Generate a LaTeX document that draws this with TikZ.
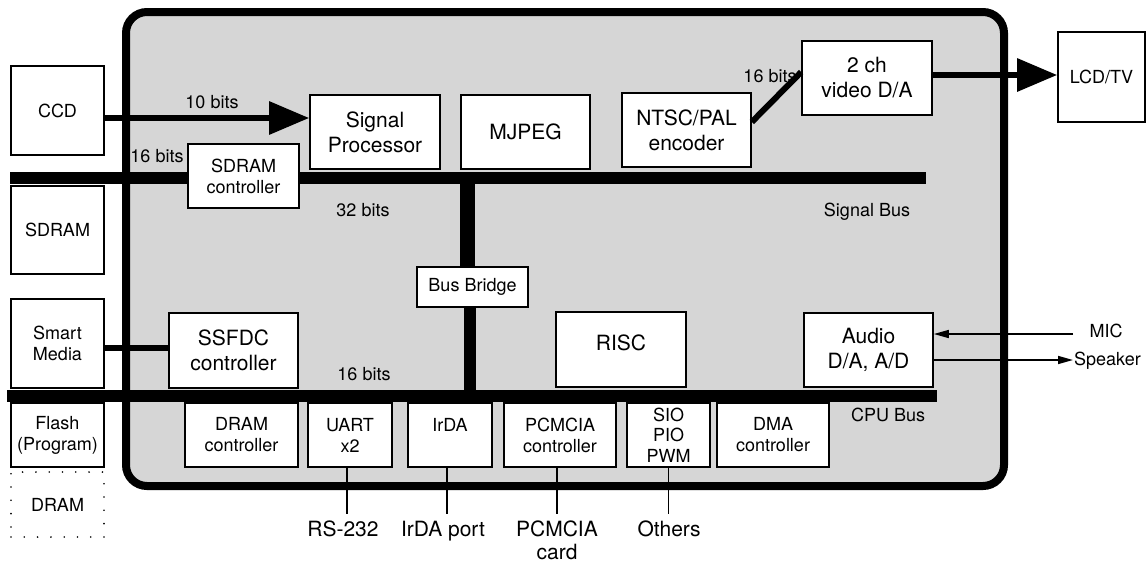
\documentclass[tikz,border=0pt]{standalone}
\usepackage{fontspec}
\setmainfont{TeX Gyre Heros}
\usetikzlibrary{arrows.meta}
\definecolor{panel}{RGB}{214,214,214}
\tikzset{
  bigtxt/.style={font=\fontsize{21}{25}\selectfont},
  smalltxt/.style={font=\fontsize{18}{21}\selectfont},
  box/.style={draw, line width=1.6pt, fill=white, inner sep=0pt, align=center},
  dotbox/.style={draw, line width=1.8pt, line cap=round, dash pattern=on 0pt off 13.3pt, inner sep=0pt, align=center},
  bus/.style={line width=12pt},
  wire/.style={line width=6pt},
  thin/.style={line width=1.6pt},
  bigtip/.style={-{Triangle[length=40pt,width=32pt]}},
  smalltip/.style={-{Triangle[length=15pt,width=8pt]}},
}
\begin{document}
\begin{tikzpicture}[x=1pt,y=-1pt]
\useasboundingbox (0,0) rectangle (1147,562);
% chip outline
\node[draw, line width=8pt, fill=panel, rounded corners=21pt, minimum width=878pt, minimum height=474pt, inner sep=0pt] (chip) at (565,249) {};
% buses
\coordinate (sbL) at (10,178);
\coordinate (sbR) at (926,178);
\coordinate (cbL) at (7,396);
\coordinate (cbR) at (937,396);
\draw[bus] (sbL) -- (sbR);
\draw[bus] (cbL) -- (cbR);
% bus bridge
\node[box, smalltxt, minimum width=111pt, minimum height=40pt] (BB) at (472.5,287) {Bus Bridge};
\coordinate (bbtop) at (467,178);
\coordinate (bbbot) at (470,396);
\draw[line width=15pt] (bbtop) -- (bbtop |- BB.north);
\draw[bus] (bbbot |- BB.south) -- (bbbot);
% external left boxes
\node[box, smalltxt, minimum width=93pt, minimum height=89pt] (CCD) at (57.5,110.5) {CCD};
\node[box, smalltxt, minimum width=93pt, minimum height=88pt] (SDRAM) at (57.5,230) {SDRAM};
\node[box, smalltxt, minimum width=93pt, minimum height=89pt] (SM) at (57.5,343.5) {Smart\\Media};
\node[box, smalltxt, minimum width=93pt, minimum height=64pt] (FL) at (57.5,435) {Flash\\(Program)};
\node[dotbox, smalltxt, minimum width=93pt, minimum height=65pt] (DR) at (57.5,504.5) {DRAM};
% inner top boxes
\node[box, bigtxt, minimum width=130pt, minimum height=74pt] (SP) at (375,132) {Signal\\Processor};
\node[box, bigtxt, minimum width=129pt, minimum height=74pt] (MJ) at (525.5,132) {MJPEG};
\node[box, bigtxt, minimum width=129pt, minimum height=74pt] (NT) at (686.5,130) {NTSC/PAL\\encoder};
\node[box, bigtxt, minimum width=130pt, minimum height=74pt] (DA) at (867,78) {2 ch\\video D/A};
\node[box, smalltxt, minimum width=87pt, minimum height=90pt] (LCD) at (1101.5,77) {LCD/TV};
\node[box, smalltxt, minimum width=111pt, minimum height=64pt] (SC) at (243.5,176) {SDRAM\\controller};
% middle boxes
\node[box, bigtxt, minimum width=129pt, minimum height=75pt] (SS) at (233.5,350.5) {SSFDC\\controller};
\node[box, minimum width=130pt, minimum height=75pt] (RISC) at (621,349.5) {};
\node[bigtxt, inner sep=0pt] (RISCt) at ([yshift=7pt]RISC.center) {RISC};
\node[box, bigtxt, minimum width=129pt, minimum height=74pt] (AU) at (868.5,350) {Audio\\D/A, A/D};
% bottom row
\node[box, smalltxt, minimum width=113pt, minimum height=64pt] (DC) at (241.5,435) {DRAM\\controller};
\node[box, smalltxt, minimum width=84pt, minimum height=64pt] (UA) at (350,435) {UART\\x2};
\node[box, smalltxt, minimum width=84pt, minimum height=64pt] (IR) at (450,435) {IrDA\\\mbox{}};
\node[box, smalltxt, minimum width=112pt, minimum height=64pt] (PC) at (560,435) {PCMCIA\\controller};
\node[box, smalltxt, minimum width=83pt, minimum height=64pt, font=\fontsize{18}{20.5}\selectfont] (SI) at (668.5,435) {SIO\\PIO\\PWM};
\node[box, smalltxt, minimum width=112pt, minimum height=64pt] (DM) at (773,435) {DMA\\controller};
% connectors
\coordinate (ccdout) at ([yshift=-7.5pt]CCD.east);
\draw[wire, bigtip] (ccdout) -- (ccdout -| SP.west);
\coordinate (smout) at ([yshift=-4.5pt]SM.east);
\draw[wire] (smout) -- (smout -| SS.west);
\draw[wire] ([yshift=8pt]NT.east) -- ([yshift=6pt]DA.west);
\coordinate (daout) at ([yshift=3pt]DA.east);
\draw[wire, bigtip] (daout) -- (daout -| LCD.west);
% audio
\coordinate (micend) at (1073,334);
\coordinate (spkend) at (1073,360);
\draw[thin, smalltip] (micend) -- (micend -| AU.east);
\draw[thin, smalltip] (spkend -| AU.east) -- (spkend);
\node[smalltxt, anchor=base, inner sep=0pt] (MIC) at (1106,337) {MIC};
\node[smalltxt, anchor=base west, inner sep=0pt] (SPK) at (1074,365) {Speaker};
% bottom stubs
\node[bigtxt, anchor=base, inner sep=0pt] (RS) at (343,536) {RS-232};
\node[bigtxt, anchor=base, inner sep=0pt] (IP) at (443,536) {IrDA port};
\node[bigtxt, anchor=base, inner sep=0pt] (PCa) at (557,536) {PCMCIA};
\node[bigtxt, anchor=base, inner sep=0pt] (PCb) at (557,559) {card};
\node[bigtxt, anchor=base, inner sep=0pt] (OT) at (669,536) {Others};
\draw[thin] ([xshift=-3pt]UA.south) -- ++(0,46);
\draw[thin] ([xshift=-3pt]IR.south) -- ++(0,46);
\draw[thin] ([xshift=-3pt]PC.south) -- ++(0,46);
\draw[thin] (SI.south) -- ++(0,46);
% labels
\node[smalltxt, anchor=base, inner sep=0pt] (l10) at (212,108) {10 bits};
\node[smalltxt, anchor=base, inner sep=0pt] (l16a) at (157,162) {16 bits};
\node[smalltxt, anchor=base, inner sep=0pt] (l32) at (363,216) {32 bits};
\node[smalltxt, anchor=base, inner sep=0pt] (lsb) at (867,216) {Signal Bus};
\node[smalltxt, anchor=base, inner sep=0pt] (l16b) at (770,82) {16 bits};
\node[smalltxt, anchor=base, inner sep=0pt] (l16c) at (364,380) {16 bits};
\node[smalltxt, anchor=base, inner sep=0pt] (lcb) at (888,421) {CPU Bus};
\end{tikzpicture}
\end{document}
